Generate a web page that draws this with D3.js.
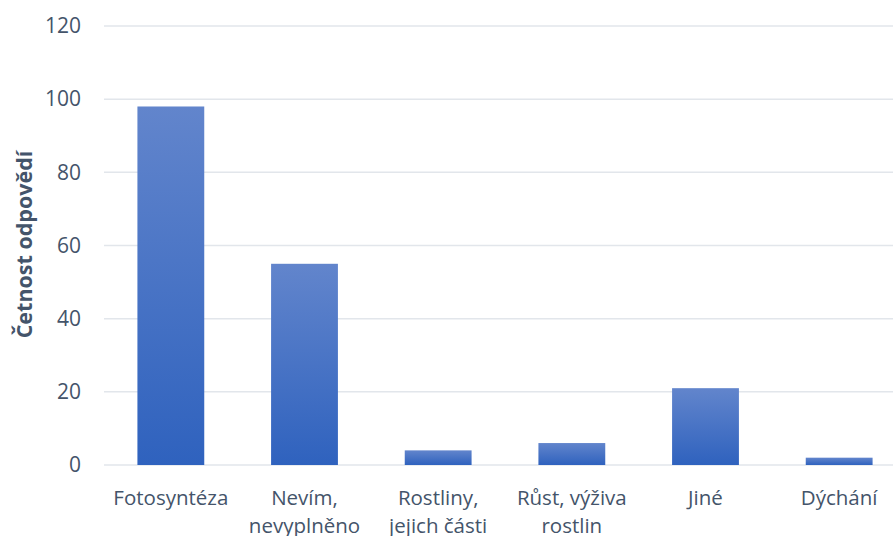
<!DOCTYPE html>
<html>
<head>
<meta charset="utf-8">
<script src="https://cdn.jsdelivr.net/npm/d3@7"></script>
<style>
  html, body { margin: 0; padding: 0; background: #fff; }
  svg text { font-family: "Open Sans", "Noto Sans", sans-serif; }
</style>
</head>
<body>
<div id="chart"></div>
<script>
// data
const categories = ["Fotosyntéza", "Nevím, nevyplněno", "Rostliny, jejich části", "Růst, výživa rostlin", "Jiné", "Dýchání"];
const labelLines = [["Fotosyntéza"], ["Nevím,", "nevyplněno"], ["Rostliny,", "jejich části"], ["Růst, výživa", "rostlin"], ["Jiné"], ["Dýchání"]];
const counts = [98, 55, 4, 6, 21, 2];
const yTicks = [0, 20, 40, 60, 80, 100, 120];
const yTitle = "Četnost odpovědí";

const width = 893, height = 536;
const margin = { top: 26, right: -13, bottom: 71, left: 104 };

const svg = d3.select("#chart").append("svg")
    .attr("width", width)
    .attr("height", height);

const defs = svg.append("defs");
const grad = defs.append("linearGradient")
    .attr("id", "barGrad")
    .attr("x1", 0).attr("y1", 0).attr("x2", 0).attr("y2", 1);
grad.append("stop").attr("offset", "0%").attr("stop-color", "#6285cc");
grad.append("stop").attr("offset", "100%").attr("stop-color", "#2f62be");

const x = d3.scaleBand()
    .domain(categories)
    .range([margin.left, width - margin.right])
    .paddingInner(0.5)
    .paddingOuter(0.25);

const y = d3.scaleLinear()
    .domain([0, 120])
    .range([height - margin.bottom, margin.top]);

// gridlines
svg.append("g")
    .selectAll("line")
    .data(yTicks)
    .join("line")
    .attr("x1", margin.left)
    .attr("x2", width)
    .attr("y1", d => y(d))
    .attr("y2", d => y(d))
    .attr("stroke", "#e2e6eb")
    .attr("stroke-width", 1.5);

// y axis labels
svg.append("g")
    .attr("transform", `translate(${margin.left - 23},0)`)
    .call(d3.axisLeft(y).tickValues(yTicks).tickSize(0).tickPadding(0))
    .call(g => g.select(".domain").remove())
    .selectAll("text")
    .attr("fill", "#44546a")
    .style("font-size", "21px");

// bars
svg.append("g")
    .selectAll("rect")
    .data(counts)
    .join("rect")
    .attr("x", (d, i) => x(categories[i]))
    .attr("width", x.bandwidth())
    .attr("y", d => y(d))
    .attr("height", d => y(0) - y(d))
    .attr("fill", "url(#barGrad)");

// x labels
const xl = svg.append("g")
    .selectAll("text")
    .data(labelLines)
    .join("text")
    .attr("x", (d, i) => x(categories[i]) + x.bandwidth() / 2)
    .attr("y", 505)
    .attr("text-anchor", "middle")
    .attr("fill", "#44546a")
    .style("font-size", "20.5px");
xl.selectAll("tspan")
    .data(d => d)
    .join("tspan")
    .attr("x", function () { return this.parentNode.getAttribute("x"); })
    .attr("dy", (d, i) => i === 0 ? 0 : 28)
    .text(d => d);

// y title
svg.append("text")
    .attr("transform", `translate(32,${(y(0) + y(120)) / 2 - 1}) rotate(-90)`)
    .attr("text-anchor", "middle")
    .attr("fill", "#44546a")
    .attr("font-weight", "bold")
    .style("font-size", "21.5px")
    .text(yTitle);
</script>
</body>
</html>
